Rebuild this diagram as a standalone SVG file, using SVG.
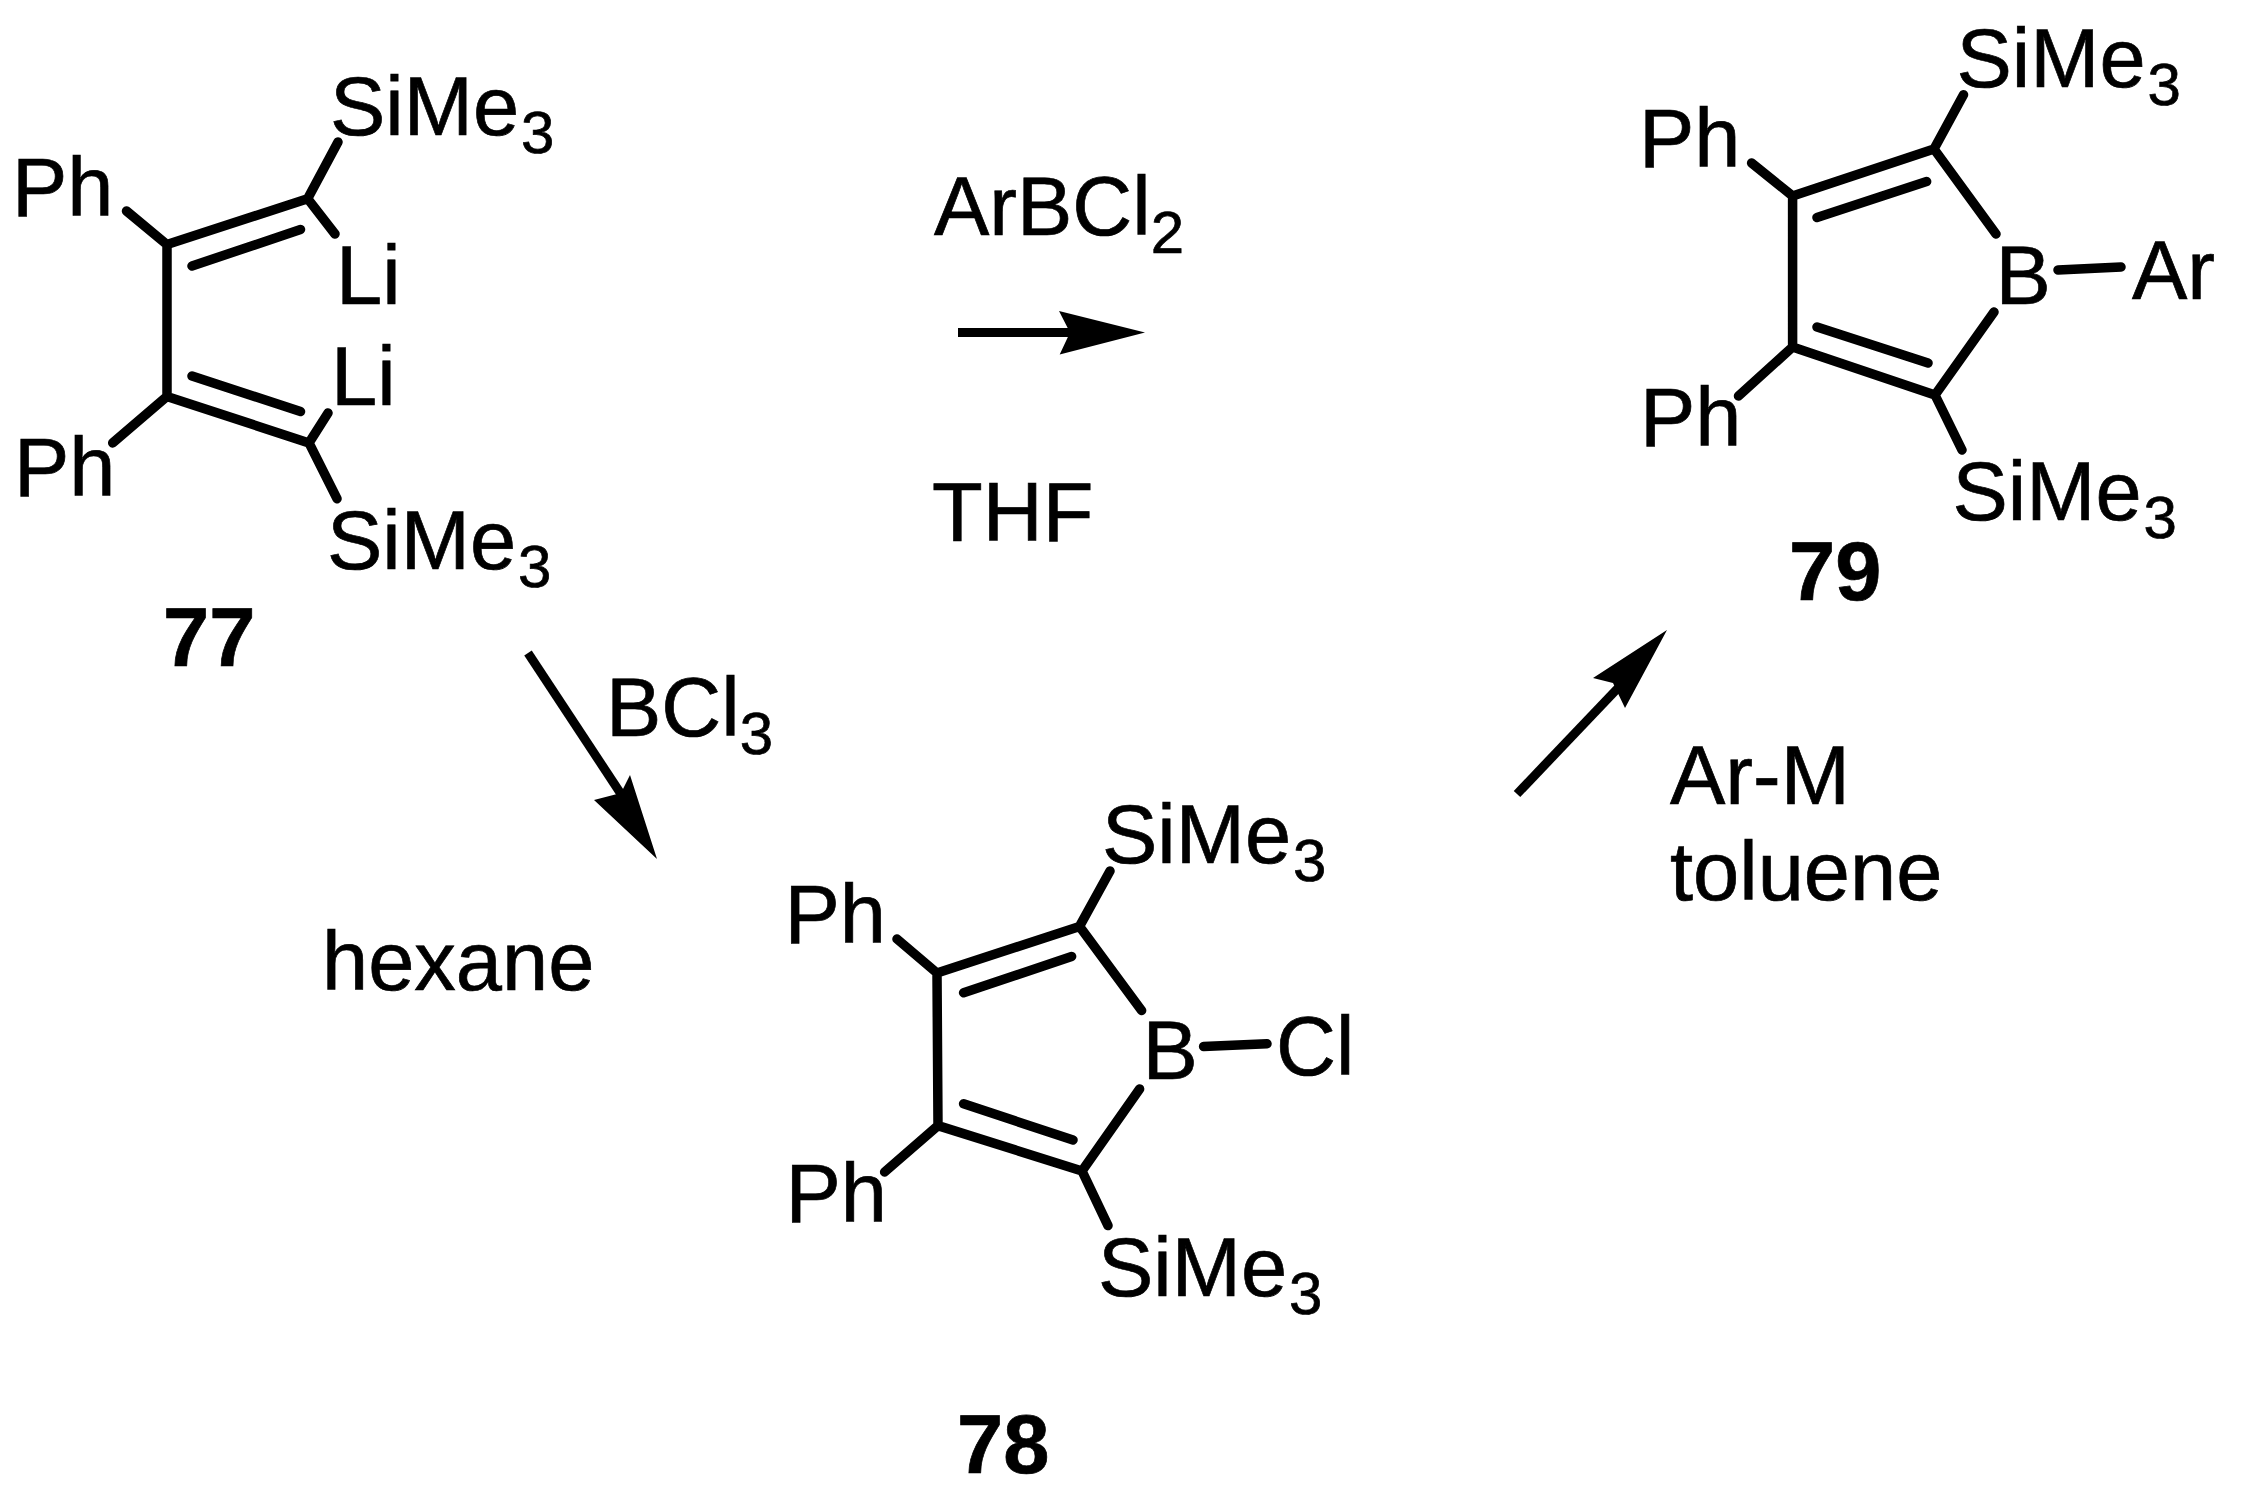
<svg xmlns="http://www.w3.org/2000/svg" width="2243" height="1493" viewBox="0 0 2243 1493">
<style>
text{font-family:"Liberation Sans",Arial,sans-serif;font-size:83px;fill:#000;stroke:#000;stroke-width:.7}
.b{font-weight:700}
.s{font-size:60px}
.bond{stroke:#000;stroke-width:9.5;stroke-linecap:round;stroke-linejoin:round;fill:none}
.shaft{stroke:#000;stroke-width:9;fill:none}
.head{fill:#000;stroke:none}
</style>
<rect width="2243" height="1493" fill="#fff"/>
<g id="compound-77">
<path class="bond" d="M126.5 211L167 244.6L307.6 198.7L338 142M307.6 198.7L335 234M167 244.6V396.4L309 442.9L328 413M309 442.9L337 498.7M167 396.4L112.7 442.9M192 266L300.5 229.5M192 376L300.5 411.6"/>
<text x="330" y="135">SiMe<tspan class="s" dx="2" dy="18">3</tspan></text>
<text x="12" y="215.6">Ph</text>
<text x="336" y="303.6">Li</text>
<text x="331" y="405.4">Li</text>
<text x="14" y="495.5">Ph</text>
<text x="327" y="569">SiMe<tspan class="s" dx="2" dy="18">3</tspan></text>
<text class="b" x="163" y="666">77</text>
</g>
<g id="compound-78">
<path class="bond" d="M897 939L937 973L1079.5 926.4L1110 871M1079.5 926.4L1141.6 1010.5M937 973L938 1125.6L1082 1171L1139.6 1089M1082 1171L1108 1225.6M938 1125.6L884.6 1172M963.6 992.8L1071.6 956.4M963.6 1103.8L1073 1140M1203.6 1046.5L1267 1043.7"/>
<text x="1102" y="863">SiMe<tspan class="s" dx="2" dy="18">3</tspan></text>
<text x="784.5" y="942.8">Ph</text>
<text x="1142.6" y="1079">B</text>
<text x="1276" y="1074.5">Cl</text>
<text x="785.5" y="1222">Ph</text>
<text x="1098" y="1296">SiMe<tspan class="s" dx="2" dy="18">3</tspan></text>
<text class="b" x="957" y="1473">78</text>
</g>
<g id="compound-79">
<path class="bond" d="M1751.6 163L1792.6 196L1934 149L1963.5 94.7M1934 149L1996 234M1792.6 196V347L1935 395L1994 312M1935 395L1962 450M1792.6 347L1738.5 396M1817 217.5L1926.6 181.6M1817 327L1928 363M2058 270L2121 267"/>
<text x="1956.5" y="87">SiMe<tspan class="s" dx="2" dy="18">3</tspan></text>
<text x="1639" y="167">Ph</text>
<text x="1995.6" y="304">B</text>
<text x="2132" y="299">Ar</text>
<text x="1640" y="445.7">Ph</text>
<text x="1952.5" y="520">SiMe<tspan class="s" dx="2" dy="18">3</tspan></text>
<text class="b" x="1789" y="600">79</text>
</g>
<g id="connectors">
<path class="shaft" d="M528 653L621 794"/>
<polygon class="head" points="657,859 594,800 621,793 630,775"/>
<path class="shaft" d="M958 332.5H1075"/>
<polygon class="head" points="1145,332.5 1059,311 1070,332.5 1059.7,354.5"/>
<path class="shaft" d="M1517 794L1618 688"/>
<polygon class="head" points="1667,630 1593,678 1613,683 1625,708"/>
</g>
<g id="labels">
<text x="934" y="235">ArBCl<tspan class="s" dy="18">2</tspan></text>
<text x="932" y="541">THF</text>
<text x="606" y="735.6">BCl<tspan class="s" dy="18">3</tspan></text>
<text x="322" y="990">hexane</text>
<text x="1670" y="804">Ar-M</text>
<text x="1670" y="900">toluene</text>
</g>
</svg>
